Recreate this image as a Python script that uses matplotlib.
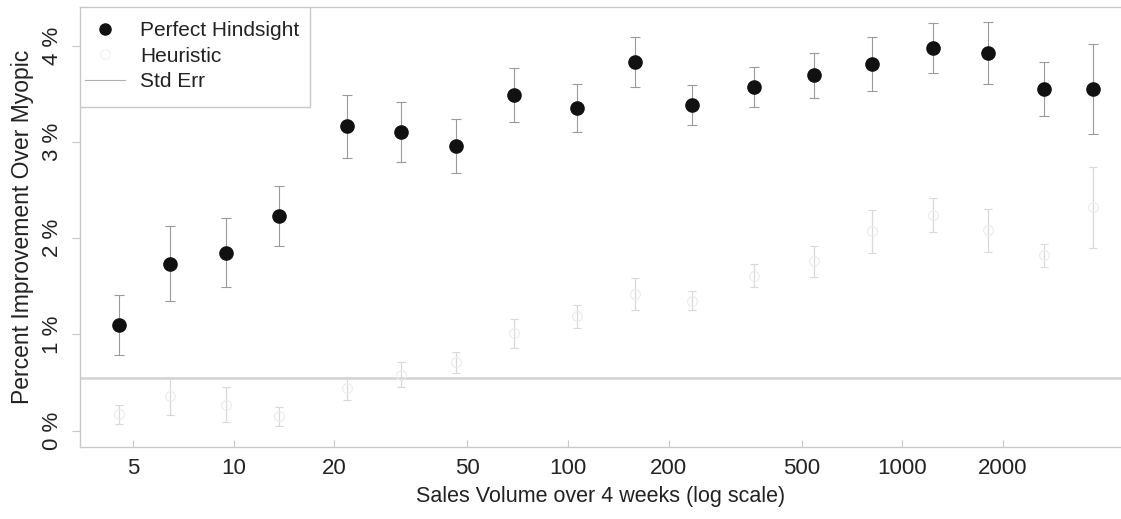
import matplotlib
matplotlib.use("Agg")
import matplotlib.pyplot as plt
from matplotlib.lines import Line2D
from matplotlib.patches import Rectangle
import numpy as np

plt.rcParams['font.family'] = ['Liberation Sans', 'DejaVu Sans']

# Data
volume = [4.53, 6.43, 9.46, 13.7, 21.8, 31.6, 46.2, 68.9, 106, 158,
          235, 360, 545, 813, 1230, 1808, 2643, 3707]
perfect = [1.10, 1.735, 1.85, 2.23, 3.16, 3.10, 2.96, 3.49, 3.35, 3.83,
           3.38, 3.57, 3.69, 3.81, 3.97, 3.92, 3.55, 3.55]
perfect_se = [0.31, 0.39, 0.36, 0.31, 0.33, 0.31, 0.28, 0.28, 0.25, 0.26,
              0.21, 0.21, 0.23, 0.28, 0.26, 0.32, 0.28, 0.47]
heuristic = [0.17, 0.36, 0.27, 0.15, 0.44, 0.58, 0.71, 1.01, 1.19, 1.42,
             1.35, 1.61, 1.76, 2.07, 2.24, 2.08, 1.82, 2.32]
heuristic_se = [0.10, 0.20, 0.18, 0.10, 0.12, 0.13, 0.11, 0.15, 0.12, 0.17,
                0.10, 0.12, 0.16, 0.22, 0.18, 0.22, 0.12, 0.42]
xticks = [5, 10, 20, 50, 100, 200, 500, 1000, 2000]
yticks = [0, 1, 2, 3, 4]
ref_line = 0.55

W, H = 1121, 519
fig = plt.figure(figsize=(W / 100, H / 100), dpi=100)
ax = fig.add_axes([80 / W, (H - 447) / H, (W - 80) / W, 440 / H])

txt = '#222222'
frame = '#c8c8c8'

# heuristic (very faint)
ax.errorbar(volume, heuristic, yerr=heuristic_se, fmt='none', ecolor='#d8d8d8',
            elinewidth=0.9, capsize=3, capthick=0.8, linestyle=(0, (1, 2)), zorder=2)
ax.plot(volume, heuristic, linestyle='none', marker='o', markersize=7,
        markerfacecolor='none', markeredgecolor='#ebebeb', markeredgewidth=0.8, zorder=2)

# perfect hindsight
ax.errorbar(volume, perfect, yerr=perfect_se, fmt='none', ecolor='#9a9a9a',
            elinewidth=0.8, capsize=3.5, capthick=0.8, zorder=3)
ax.plot(volume, perfect, linestyle='none', marker='o', markersize=9.5,
        color='#111111', zorder=4)

ax.axhline(ref_line, color='#d2d2d2', linewidth=1.8, zorder=1)

ax.set_xscale('log')
ax.set_xlim(3.47, 4504)
ax.set_ylim(-0.17, 4.40)

ax.set_xticks(xticks)
ax.set_xticklabels([str(t) for t in xticks])
ax.xaxis.set_minor_locator(matplotlib.ticker.NullLocator())
ax.set_yticks(yticks)
ax.set_yticklabels([f"{t} %" for t in yticks], rotation=90, va='center')

ax.tick_params(axis='x', direction='in', length=5, color=frame, labelsize=16,
               labelcolor=txt, pad=8)
ax.tick_params(axis='y', direction='out', length=6, color=frame, labelsize=16,
               labelcolor=txt, pad=6)

for s in ['left', 'bottom', 'top']:
    ax.spines[s].set_color(frame)
    ax.spines[s].set_linewidth(1.0)
ax.spines['right'].set_visible(False)

ax.set_xlabel('Sales Volume over 4 weeks (log scale)', fontsize=15.5, color=txt, labelpad=5)
ax.set_ylabel('Percent Improvement Over Myopic', fontsize=16.5, color=txt, labelpad=6)

# legend frame drawn manually (right and bottom edges visible)
ax.add_patch(Rectangle((0, 0.773), 0.221, 0.227, transform=ax.transAxes,
                       facecolor='white', edgecolor=frame, linewidth=1.0, zorder=5))

handles = [
    Line2D([], [], linestyle='none', marker='o', markersize=8, color='#111111'),
    Line2D([], [], linestyle='none', marker='o', markersize=7,
           markerfacecolor='none', markeredgecolor='#f4f4f4'),
    Line2D([], [], color='#b0b0b0', linewidth=0.8),
]
leg = ax.legend(handles, ['Perfect Hindsight', 'Heuristic', 'Std Err'],
                loc='upper left', bbox_to_anchor=(0.0048, 0.968),
                borderaxespad=0, fontsize=15, frameon=False,
                labelspacing=0.31, handlelength=1.92, handletextpad=0.72,
                borderpad=0)
leg.set_zorder(6)
for t in leg.get_texts():
    t.set_color(txt)

fig.savefig('out.png', dpi=100)
